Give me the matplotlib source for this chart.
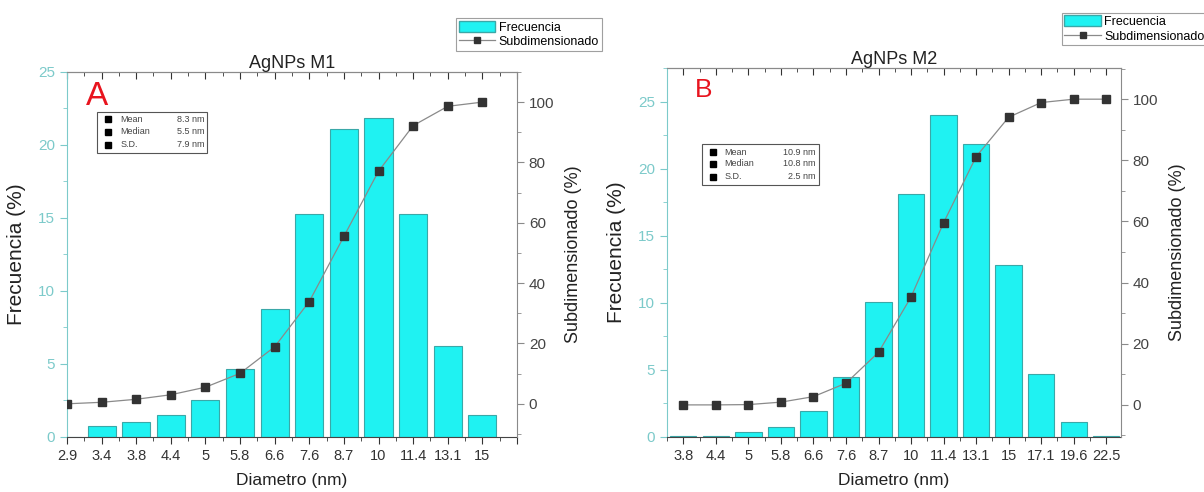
import matplotlib.pyplot as plt
from matplotlib.lines import Line2D
from matplotlib.patches import Patch, Rectangle
from matplotlib.ticker import MultipleLocator, FixedLocator

plt.rcParams['font.family'] = ['Liberation Sans', 'DejaVu Sans']

# ---- data ----
diam_m1 = ["2.9", "3.4", "3.8", "4.4", "5", "5.8", "6.6", "7.6", "8.7", "10", "11.4", "13.1", "15"]
freq_m1 = [0, 0.77, 1.0, 1.53, 2.5, 4.66, 8.79, 15.3, 21.1, 21.85, 15.3, 6.26, 1.49]
cum_m1 = [0, 0.5, 1.5, 3.0, 5.5, 10.1, 18.9, 33.9, 55.5, 77.1, 92.2, 98.6, 100]
stats_m1 = [("Mean", "8.3 nm"), ("Median", "5.5 nm"), ("S.D.", "7.9 nm")]

diam_m2 = ["3.8", "4.4", "5", "5.8", "6.6", "7.6", "8.7", "10", "11.4", "13.1", "15", "17.1", "19.6", "22.5"]
freq_m2 = [0.05, 0.1, 0.35, 0.72, 1.9, 4.5, 10.05, 18.1, 24.0, 21.8, 12.8, 4.72, 1.09, 0.1]
cum_m2 = [0, 0, 0.1, 0.9, 2.7, 7.1, 17.2, 35.3, 59.6, 81.2, 94.1, 98.9, 100, 100]
stats_m2 = [("Mean", "10.9 nm"), ("Median", "10.8 nm"), ("S.D.", "2.5 nm")]

BAR = "#1ff2f2"
BAR_EDGE = "#3aa8a8"
TEAL = "#7ccaca"
GREY = "#8a8a8a"


def draw_panel(fig, rect, labels, freq, cum, stats, letter, title, xlim, ylim, y2lim,
               letter_pos, letter_size, box, rows, xm, xl, xv):
    ax = fig.add_axes(rect)
    x = list(range(len(labels)))
    ax.bar(x, freq, width=0.81, color=BAR, edgecolor=BAR_EDGE, linewidth=0.8, zorder=2)
    ax.set_xlim(*xlim)
    ax.set_ylim(*ylim)

    major = list(range(14))
    minor = [n + 0.5 for n in range(-1, 14)]
    ax.xaxis.set_major_locator(FixedLocator(major))
    ax.set_xticklabels(labels + [""] * (len(major) - len(labels)))
    ax.xaxis.set_minor_locator(FixedLocator(minor))
    ax.yaxis.set_major_locator(MultipleLocator(5))
    ax.yaxis.set_minor_locator(MultipleLocator(2.5))
    ax.tick_params(axis="x", which="both", direction="out", colors="#333333",
                   labelsize=10.5, length=5)
    ax.tick_params(axis="x", which="minor", length=3)
    ax.tick_params(axis="y", which="both", colors=TEAL, labelsize=11, length=5)
    ax.tick_params(axis="y", which="minor", length=3)
    ax.spines["left"].set_color(TEAL)
    ax.spines["top"].set_color(GREY)
    ax.spines["bottom"].set_color("#444444")
    ax.spines["right"].set_visible(False)

    # inward ticks along the top frame
    top = ax.secondary_xaxis("top")
    top.xaxis.set_major_locator(FixedLocator(major))
    top.xaxis.set_minor_locator(FixedLocator(minor))
    top.tick_params(axis="x", which="both", direction="in", labeltop=False,
                    colors="#333333", length=5)
    top.tick_params(axis="x", which="minor", length=3)
    top.spines["top"].set_color(GREY)

    ax.set_xlabel("Diametro (nm)", fontsize=12.5, color="#222222", labelpad=7)
    ax.set_ylabel("Frecuencia (%)", fontsize=15, color="#222222", labelpad=9)
    ax.set_title(title, fontsize=13, color="#222222", pad=0)

    ax2 = ax.twinx()
    ax2.plot(x[:len(cum)], cum, color=GREY, linewidth=0.9, marker="s", markersize=5.5,
             markerfacecolor="#333333", markeredgecolor="#333333", zorder=3)
    ax2.set_ylim(*y2lim)
    ax2.yaxis.set_major_locator(MultipleLocator(20))
    ax2.yaxis.set_minor_locator(MultipleLocator(10))
    ax2.tick_params(axis="y", which="both", colors=GREY, labelcolor="#444444",
                    labelsize=11, length=5)
    ax2.tick_params(axis="y", which="minor", length=3)
    for s in ["left", "top", "bottom"]:
        ax2.spines[s].set_visible(False)
    ax2.spines["right"].set_color(GREY)
    ax2.set_ylabel("Subdimensionado (%)", fontsize=13, color="#222222", labelpad=8)

    ax.text(letter_pos[0], letter_pos[1], letter, transform=ax.transAxes, color="#e8141e",
            fontsize=letter_size, ha="left", va="baseline", zorder=5)

    # stats box
    ax.add_patch(Rectangle((box[0], box[1]), box[2], box[3], transform=ax.transAxes,
                           facecolor="white", edgecolor="#555555", linewidth=0.8, zorder=4))
    for (name, val), yy in zip(stats, rows):
        ax.plot([xm], [yy], marker="s", markersize=4, color="black",
                transform=ax.transAxes, zorder=5, clip_on=False)
        ax.text(xl, yy, name, transform=ax.transAxes, fontsize=6.5, color="#444444",
                va="center", ha="left", zorder=5)
        ax.text(xv, yy, val, transform=ax.transAxes, fontsize=6.5, color="#444444",
                va="center", ha="right", zorder=5)
    return ax


fig = plt.figure(figsize=(12.04, 4.92), dpi=100)

draw_panel(fig, [0.0556, 0.1118, 0.3738, 0.742], diam_m1, freq_m1, cum_m1, stats_m1,
           "A", "AgNPs M1", (0, 13), (0, 25), (-11, 110),
           (0.042, 0.91), 24, (0.066, 0.778, 0.246, 0.112),
           [0.871, 0.836, 0.800], 0.092, 0.118, 0.305)

draw_panel(fig, [0.554, 0.1118, 0.377, 0.750], diam_m2, freq_m2, cum_m2, stats_m2,
           "B", "AgNPs M2", (-0.5, 13.45), (0, 27.5), (-10.5, 110.2),
           (0.061, 0.921), 19, (0.076, 0.683, 0.259, 0.111),
           [0.772, 0.740, 0.705], 0.101, 0.126, 0.327)

handles = [Patch(facecolor=BAR, edgecolor=BAR_EDGE),
           Line2D([], [], color=GREY, marker="s", markersize=4.5, linewidth=0.9,
                  markerfacecolor="#333333", markeredgecolor="#333333")]
for anchor in [(0.379, 0.963), (0.882, 0.974)]:
    leg = fig.legend(handles, ["Frecuencia", "Subdimensionado"], loc="upper left",
                     bbox_to_anchor=anchor, fontsize=9, frameon=True, fancybox=False,
                     borderpad=0.2, labelspacing=0.15, handlelength=2.9, handleheight=1.0,
                     handletextpad=0.3, borderaxespad=0)
    leg.get_frame().set_edgecolor("#888888")
    leg.get_frame().set_linewidth(0.8)

fig.savefig("out.png", dpi=100)
